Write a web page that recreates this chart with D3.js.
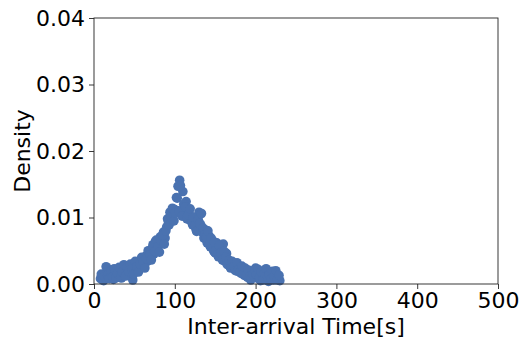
<!DOCTYPE html>
<html>
<head>
<meta charset="utf-8">
<script src="https://cdn.jsdelivr.net/npm/d3@7"></script>
<style>
  body { margin: 0; background: #fff; }
  text { font-family: "DejaVu Sans", sans-serif; fill: #000; }
</style>
</head>
<body>
<svg id="chart" width="520" height="342"></svg>
<script>
// inter-arrival time (s)
const times = [
  8, 10, 12, 14, 16, 18, 20, 22, 24, 26, 28, 30, 32, 34, 36, 38, 40, 42, 44, 46, 48,
  50, 52, 54, 56, 58, 60, 62, 64, 66, 68, 70, 72, 74, 76, 78, 80, 82, 84, 86, 88,
  90, 92, 94, 96, 98, 100, 102, 104, 106, 108, 110, 112, 114, 116, 118, 120, 122, 124, 126, 128,
  130, 132, 134, 136, 138, 140, 142, 144, 146, 148, 150, 152, 154, 156, 158, 160, 162, 164, 166, 168,
  170, 172, 174, 176, 178, 180, 182, 184, 186, 188, 190, 192, 194, 196, 198, 200, 202, 204, 206, 208,
  210, 212, 214, 216, 218, 220, 222, 224, 226, 228, 230
];
// density values
const density = [
  0.0008, 0.0012, 0.0005, 0.0016, 0.0009, 0.0022, 0.0010, 0.0014, 0.0007, 0.0018, 0.0012, 0.0020, 0.0015, 0.0009, 0.0024, 0.0017, 0.0021, 0.0013, 0.0026, 0.0019, 0.0006,
  0.0028, 0.0020, 0.0032, 0.0024, 0.0036, 0.0027, 0.0030, 0.0042, 0.0034, 0.0048, 0.0039, 0.0054, 0.0045, 0.0064, 0.0052, 0.0058, 0.0071, 0.0062, 0.0078, 0.0069,
  0.0086, 0.0094, 0.0108, 0.0099, 0.0103, 0.0112, 0.0130, 0.0147, 0.0156, 0.0109, 0.0139, 0.0105, 0.0124, 0.0110, 0.0097, 0.0102, 0.0089, 0.0096, 0.0083, 0.0091,
  0.0108, 0.0089, 0.0078, 0.0069, 0.0081, 0.0062, 0.0073, 0.0056, 0.0066, 0.0050, 0.0047, 0.0062, 0.0041, 0.0053, 0.0039, 0.0060, 0.0034, 0.0046, 0.0032, 0.0030,
  0.0026, 0.0031, 0.0022, 0.0028, 0.0019, 0.0025, 0.0016, 0.0023, 0.0013, 0.0020, 0.0010, 0.0017, 0.0006, 0.0019, 0.0012, 0.0024, 0.0009, 0.0016, 0.0005, 0.0013,
  0.0020, 0.0007, 0.0015, 0.0004, 0.0018, 0.0011, 0.0006, 0.0014, 0.0008, 0.0010, 0.0005
];
// odd-second bins
const times2 = [
  9, 11, 13, 15, 17, 19, 21, 23, 25, 27, 29, 31, 33, 35, 37, 39, 41, 43, 45, 47, 49,
  51, 53, 55, 57, 59, 61, 63, 65, 67, 69, 71, 73, 75, 77, 79, 81, 83, 85, 87, 89,
  91, 93, 95, 97, 99, 101, 103, 105, 107, 109, 111, 113, 115, 117, 119, 121, 123, 125, 127, 129,
  131, 133, 135, 137, 139, 141, 143, 145, 147, 149, 151, 153, 155, 157, 159, 161, 163, 165, 167, 169,
  171, 173, 175, 177, 179, 181, 183, 185, 187, 189, 191, 193, 195, 197, 199, 201, 203, 205, 207, 209,
  211, 213, 215, 217, 219, 221, 223, 225, 227, 229
];
const density2 = [
  0.0015, 0.0006, 0.0011, 0.0026, 0.0013, 0.0008, 0.0019, 0.0011, 0.0023, 0.0009, 0.0016, 0.0025, 0.0010, 0.0018, 0.0029, 0.0012, 0.0025, 0.0019, 0.0030, 0.0023, 0.0015,
  0.0034, 0.0026, 0.0018, 0.0030, 0.0040, 0.0033, 0.0024, 0.0038, 0.0050, 0.0044, 0.0036, 0.0059, 0.0049, 0.0066, 0.0056, 0.0048, 0.0065, 0.0073, 0.0060, 0.0080,
  0.0098, 0.0089, 0.0101, 0.0114, 0.0095, 0.0107, 0.0129, 0.0110, 0.0148, 0.0102, 0.0120, 0.0116, 0.0098, 0.0104, 0.0113, 0.0093, 0.0100, 0.0088, 0.0079, 0.0097,
  0.0091, 0.0106, 0.0084, 0.0074, 0.0070, 0.0080, 0.0059, 0.0069, 0.0054, 0.0063, 0.0050, 0.0044, 0.0058, 0.0047, 0.0036, 0.0049, 0.0040, 0.0029, 0.0036, 0.0024,
  0.0034, 0.0026, 0.0020, 0.0032, 0.0022, 0.0018, 0.0027, 0.0015, 0.0024, 0.0014, 0.0021, 0.0012, 0.0009, 0.0015, 0.0021, 0.0014, 0.0022, 0.0010, 0.0018, 0.0006,
  0.0016, 0.0023, 0.0010, 0.0014, 0.0007, 0.0019, 0.0012, 0.0020, 0.0006, 0.0013
];
const xTicks = [0, 100, 200, 300, 400, 500];
const yTicks = [0, 0.01, 0.02, 0.03, 0.04];

const svg = d3.select('#chart');
const margin = { left: 94, right: 22, top: 18, bottom: 58 };
const W = 520, H = 342;
const iw = W - margin.left - margin.right;
const ih = H - margin.top - margin.bottom;
const fontSize = '22px';

const x = d3.scaleLinear().domain([0, 500]).range([0, iw]);
const y = d3.scaleLinear().domain([0, 0.04]).range([ih, 0]);

const g = svg.append('g').attr('transform', `translate(${margin.left},${margin.top})`);

const pts = times.map((t, i) => ({ t, d: density[i] }))
  .concat(times2.map((t, i) => ({ t, d: density2[i] })));

// 点
g.append('g')
  .selectAll('circle')
  .data(pts)
  .join('circle')
  .attr('cx', (p) => x(p.t))
  .attr('cy', (p) => y(p.d))
  .attr('r', 4.8)
  .attr('fill', '#4a72b0');

// 枠
g.append('rect')
  .attr('width', iw).attr('height', ih)
  .attr('fill', 'none').attr('stroke', '#222').attr('stroke-width', 0.9);

const xAxis = g.append('g')
  .attr('transform', `translate(0,${ih})`)
  .call(d3.axisBottom(x).tickValues(xTicks).tickFormat(d3.format('d')).tickSize(5).tickPadding(3));
const yAxis = g.append('g')
  .call(d3.axisLeft(y).tickValues(yTicks).tickFormat(d3.format('.2f')).tickSize(5).tickPadding(4));

[xAxis, yAxis].forEach((a) => {
  a.select('.domain').remove();
  a.selectAll('line').attr('stroke', '#222').attr('stroke-width', 0.9);
  a.selectAll('text').style('font-size', fontSize).style('font-family', '"DejaVu Sans", sans-serif');
});

svg.append('text')
  .attr('x', margin.left + iw / 2).attr('y', 334)
  .attr('text-anchor', 'middle')
  .style('font-size', fontSize)
  .text('Inter-arrival Time[s]');

svg.append('text')
  .attr('transform', `translate(30,${margin.top + ih / 2}) rotate(-90)`)
  .attr('text-anchor', 'middle')
  .style('font-size', fontSize)
  .text('Density');
</script>
</body>
</html>
